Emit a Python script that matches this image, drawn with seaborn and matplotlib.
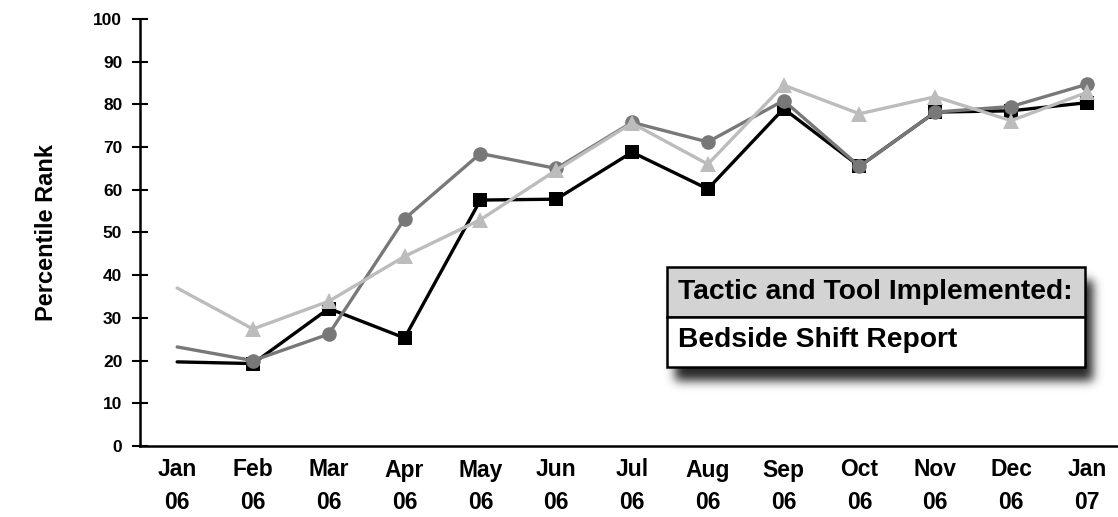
import matplotlib
matplotlib.use("Agg")
import matplotlib.pyplot as plt
from matplotlib.patches import Rectangle
import seaborn as sns
import pandas as pd
import numpy as np

months = ["Jan\n06", "Feb\n06", "Mar\n06", "Apr\n06", "May\n06", "Jun\n06", "Jul\n06",
          "Aug\n06", "Sep\n06", "Oct\n06", "Nov\n06", "Dec\n06", "Jan\n07"]
series_black = [19.7, 19.3, 32.2, 25.3, 57.6, 57.8, 68.8, 60.2, 79.0, 65.5, 78.2, 78.5, 80.4]
series_dark = [23.2, 20.0, 26.2, 53.2, 68.5, 65.0, 75.8, 71.2, 80.9, 65.5, 78.2, 79.5, 84.7]
series_light = [37.0, 27.4, 33.9, 44.4, 53.0, 64.6, 75.6, 66.0, 84.5, 77.8, 81.8, 76.2, 82.8]
yticks = list(range(0, 101, 10))
box_title = "Tactic and Tool Implemented:"
box_text = "Bedside Shift Report"
ylabel = "Percentile Rank"

sns.set_theme(style="white")
plt.rcParams["font.family"] = ["Liberation Sans", "DejaVu Sans"]
plt.rcParams["font.weight"] = "bold"
for key in ["text.color", "axes.labelcolor", "xtick.color", "ytick.color"]:
    plt.rcParams[key] = "black"

W, H = 1118, 517
fig = plt.figure(figsize=(W / 100, H / 100), dpi=100)
ax = fig.add_axes([140 / W, 1 - 446 / H, 978 / W, 427 / H])

x = np.arange(len(months))
styles = [
    (series_black, "#000000", "s", 9.5),
    (series_dark, "#787878", "o", 10.5),
    (series_light, "#bcbcbc", "^", 11.5),
]
for i, (vals, col, mk, ms) in enumerate(styles):
    df = pd.DataFrame({"x": x, "y": vals})
    sns.lineplot(data=df, x="x", y="y", ax=ax, color=col, linewidth=2.4,
                 marker=mk, markersize=ms, markeredgewidth=0, markevery=list(range(1, len(x))),
                 zorder=3 + i)

ax.set_xlim(-0.49, 12.41)
ax.set_ylim(0, 100)
ax.set_yticks(yticks)
ax.set_yticklabels([str(v) for v in yticks], fontsize=12.5, fontweight="bold", color="black")
ax.set_xticks(x)
ax.set_xticklabels(months, fontsize=16.5, fontweight="bold", linespacing=1.55, color="black")
ax.set_xticks(np.arange(12) + 0.58, minor=True)
ax.tick_params(axis="x", which="major", length=0, pad=9)
ax.tick_params(axis="x", which="minor", length=11.5, width=1.5, direction="inout", color="black")
ax.tick_params(axis="y", which="major", length=11.5, width=1.5, direction="inout", color="black",
               pad=7, left=True)
ax.set_xlabel("")
ax.set_ylabel(ylabel, fontsize=17, fontweight="bold", color="black")
ax.yaxis.set_label_coords(-0.084, 0.5)

for s in ["top", "right"]:
    ax.spines[s].set_visible(False)
for s in ["left", "bottom"]:
    ax.spines[s].set_color("black")
    ax.spines[s].set_linewidth(1.8)

# annotation box (pixel geometry of the reference)
px0, px1, py_top, py_mid, py_bot = 667, 1085, 267, 317, 367

def to_ax(px, py):
    return (px - 140) / 978, (446 - py) / 427

# soft blurred shadow as an image
pad = 30
sx0, sy0 = px0 + 8 - pad, py_top + 14 - pad
sw, sh = (px1 - px0) + 2 * pad, (py_bot - py_top) + 2 * pad
mask = np.zeros((sh, sw))
mask[pad:sh - pad, pad:sw - pad] = 1.0
sigma = 5.0
k = np.arange(-15, 16)
g = np.exp(-k ** 2 / (2 * sigma ** 2)); g /= g.sum()
mask = np.apply_along_axis(lambda r: np.convolve(r, g, mode="same"), 1, mask)
mask = np.apply_along_axis(lambda c: np.convolve(c, g, mode="same"), 0, mask)
rgba = np.zeros((sh, sw, 4))
rgba[..., 3] = mask * 0.85
ax0, ay0 = to_ax(sx0, sy0 + sh)
ax1, ay1 = to_ax(sx0 + sw, sy0)
ax.imshow(rgba, extent=(ax0, ax1, ay0, ay1), transform=ax.transAxes, zorder=8,
          aspect="auto", interpolation="bilinear")
ax.set_xlim(-0.49, 12.41)
ax.set_ylim(0, 100)

bx0, by_top = to_ax(px0, py_top)
bx1, by_mid = to_ax(px1, py_mid)
_, by_bot = to_ax(px1, py_bot)
ax.add_patch(Rectangle((bx0, by_mid), bx1 - bx0, by_top - by_mid, transform=ax.transAxes,
                       facecolor="#d3d3d3", edgecolor="black", linewidth=1.8, zorder=9))
ax.add_patch(Rectangle((bx0, by_bot), bx1 - bx0, by_mid - by_bot, transform=ax.transAxes,
                       facecolor="white", edgecolor="black", linewidth=1.8, zorder=9))
ax.text(bx0 + 0.011, (by_mid + by_top) / 2, box_title, transform=ax.transAxes, fontsize=20.3,
        fontweight="bold", va="center", ha="left", zorder=10, color="black")
ax.text(bx0 + 0.011, (by_bot + by_mid) / 2 + 0.005, box_text, transform=ax.transAxes, fontsize=20.3,
        fontweight="bold", va="center", ha="left", zorder=10, color="black")

fig.savefig("out.png", dpi=100, facecolor="white")
